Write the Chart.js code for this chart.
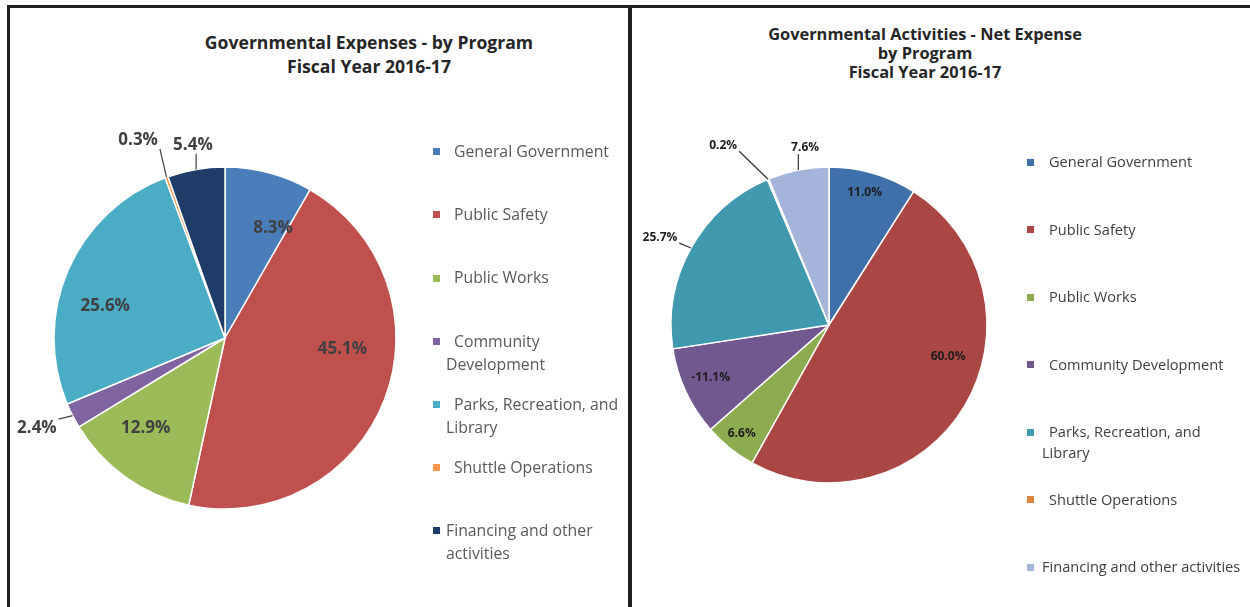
<!DOCTYPE html>
<html>
<head>
<meta charset="utf-8">
<script src="https://cdn.jsdelivr.net/npm/chart.js@4.4.1/dist/chart.umd.min.js"></script>
<style>
  body { margin: 0; width: 1250px; height: 607px; background: #fff; position: relative; overflow: hidden; font-family: "Open Sans", sans-serif; }
  .rule { position: absolute; background: #231f20; }
  canvas { position: absolute; top: 0; }
  .title { position: absolute; text-align: center; font-weight: bold; color: #262626; }
  .legend { position: absolute; }
  .legend .item { box-sizing: border-box; }
  .legend .sw { display: inline-block; width: 7px; height: 7px; vertical-align: middle; position: relative; top: -1px; }
</style>
</head>
<body>
<div class="rule" style="left:7px;top:5px;width:1243px;height:3px"></div>
<div class="rule" style="left:7px;top:5px;width:3px;height:602px"></div>
<div class="rule" style="left:628px;top:5px;width:4px;height:602px"></div>

<div class="title" id="titleLeft" style="left:169px;top:30px;width:400px;font-size:17.6px;line-height:24px"></div>
<div class="title" id="titleRight" style="left:725px;top:24px;width:400px;font-size:16.4px;line-height:19px"></div>

<canvas id="expenses" width="628" height="607" style="left:0"></canvas>
<canvas id="netExpense" width="618" height="607" style="left:632px"></canvas>

<div class="legend" id="legendLeft" style="left:433px;top:140px;width:200px;font-size:15.8px;line-height:23px;color:#595959"></div>
<div class="legend" id="legendRight" style="left:1027px;top:151px;width:225px;font-size:14.6px;line-height:21px;color:#404040"></div>

<script>
// categories, in the order the slices run clockwise from 12 o'clock
const programs = ['General Government', 'Public Safety', 'Public Works', 'Community Development',
  'Parks, Recreation, and Library', 'Shuttle Operations', 'Financing and other activities'];

// percent of total
const expensePct = [8.3, 45.1, 12.9, 2.4, 25.6, 0.3, 5.4];
const netExpensePct = [11.0, 60.0, 6.6, -11.1, 25.7, 0.2, 7.6];

const titleLeft = ['Governmental Expenses - by Program', 'Fiscal Year 2016-17'];
const titleRight = ['Governmental Activities - Net Expense', 'by Program', 'Fiscal Year 2016-17'];

// legend lines as they wrap in the picture
const legendLinesLeft = [['General Government'], ['Public Safety'], ['Public Works'], ['Community', 'Development'],
  ['Parks, Recreation, and', 'Library'], ['Shuttle Operations'], ['Financing and other', 'activities']];
const legendLinesRight = [['General Government'], ['Public Safety'], ['Public Works'], ['Community Development'],
  ['Parks, Recreation, and', 'Library'], ['Shuttle Operations'], ['Financing and other activities']];

const colorsLeft = ['#4a7ebb', '#c0504d', '#9bbb59', '#8064a2', '#4bacc6', '#f79646', '#1f3b68'];
const colorsRight = ['#3f70aa', '#aa4643', '#8dab4f', '#71588f', '#4199b0', '#db843d', '#a4b4da'];

// label placement per slice: [angle shift from mid-slice in degrees, distance as share of radius]
const placeLeft = [[8.7, 0.70], [-15.7, 0.69], [6, 0.70], [1.4, 1.22], [-8.4, 0.725], [-3.7, 1.265], [0.3, 1.146]];
const placeRight = [[-1.2, 0.87], [-15.8, 0.78], [0, 0.88], [1, 0.82], [-1.7, 1.206], [-7.8, 1.32], [3.5, 1.13]];

const sliceLabels = {
  id: 'sliceLabels',
  afterDatasetsDraw(chart, args, opts) {
    const ctx = chart.ctx;
    const meta = chart.getDatasetMeta(0);
    const values = opts.values;
    ctx.save();
    ctx.font = opts.font;
    ctx.textAlign = 'center';
    ctx.textBaseline = 'middle';
    meta.data.forEach((arc, i) => {
      const p = arc.getProps(['x', 'y', 'startAngle', 'endAngle', 'outerRadius'], true);
      const mid = (p.startAngle + p.endAngle) / 2;
      const a = mid + opts.place[i][0] * Math.PI / 180;
      const d = opts.place[i][1] * p.outerRadius;
      const lx = p.x + Math.cos(a) * d;
      const ly = p.y + Math.sin(a) * d;
      const text = values[i].toFixed(1) + '%';
      if (opts.place[i][1] > 1) {
        const w = ctx.measureText(text).width / 2 + 2;
        const h = opts.boxHalf;
        const ex = p.x + Math.cos(mid) * p.outerRadius;
        const ey = p.y + Math.sin(mid) * p.outerRadius;
        const qx = Math.min(Math.max(ex, lx - w), lx + w);
        const qy = Math.min(Math.max(ey, ly - h), ly + h);
        ctx.strokeStyle = opts.lineColor;
        ctx.lineWidth = 1.2;
        ctx.beginPath();
        ctx.moveTo(ex, ey);
        ctx.lineTo(qx, qy);
        ctx.stroke();
      }
      ctx.fillStyle = opts.color;
      ctx.fillText(text, lx, ly);
    });
    ctx.restore();
  }
};

function pie(id, values, colors, radius, padding, labelOpts) {
  return new Chart(document.getElementById(id), {
    type: 'pie',
    data: {
      labels: programs,
      datasets: [{
        data: values.map(Math.abs),
        backgroundColor: colors,
        borderColor: '#ffffff',
        borderWidth: 1.5
      }]
    },
    options: {
      responsive: false,
      animation: false,
      radius: radius,
      layout: { padding: padding },
      plugins: {
        legend: { display: false },
        tooltip: { enabled: false },
        sliceLabels: Object.assign({ values: values }, labelOpts)
      }
    },
    plugins: [sliceLabels]
  });
}

pie('expenses', expensePct, colorsLeft, 171, { left: 0, right: 178, top: 69, bottom: 0 },
  { font: 'bold 17px "Open Sans"', color: '#404040', lineColor: '#404040', place: placeLeft, boxHalf: 9 });
pie('netExpense', netExpensePct, colorsRight, 158, { left: 0, right: 224, top: 43, bottom: 0 },
  { font: 'bold 12px "Open Sans"', color: '#1e1e1e', lineColor: '#333333', place: placeRight, boxHalf: 6 });

function fillTitle(id, lines) {
  document.getElementById(id).innerHTML = lines.map(l => '<div>' + l + '</div>').join('');
}
fillTitle('titleLeft', titleLeft);
fillTitle('titleRight', titleRight);

// gaps: swatch-to-text space; the last entry sits tighter in the original
function fillLegend(id, lines, colors, rowHeight, indent, gaps) {
  const box = document.getElementById(id);
  lines.forEach((ls, i) => {
    const item = document.createElement('div');
    item.className = 'item';
    item.style.height = rowHeight + 'px';
    item.style.paddingLeft = indent + 'px';
    item.style.textIndent = (-indent) + 'px';
    ls.forEach((line, j) => {
      const row = document.createElement('div');
      if (j === 0) {
        const sw = document.createElement('span');
        sw.className = 'sw';
        sw.style.background = colors[i];
        sw.style.marginRight = gaps[i] + 'px';
        row.appendChild(sw);
      } else {
        row.style.textIndent = '0px';
      }
      row.appendChild(document.createTextNode(line));
      item.appendChild(row);
    });
    box.appendChild(item);
  });
}
fillLegend('legendLeft', legendLinesLeft, colorsLeft, 63.2, 13, [14, 14, 14, 14, 14, 14, 6]);
fillLegend('legendRight', legendLinesRight, colorsRight, 67.5, 15, [15, 15, 15, 15, 15, 15, 8]);
</script>
</body>
</html>
